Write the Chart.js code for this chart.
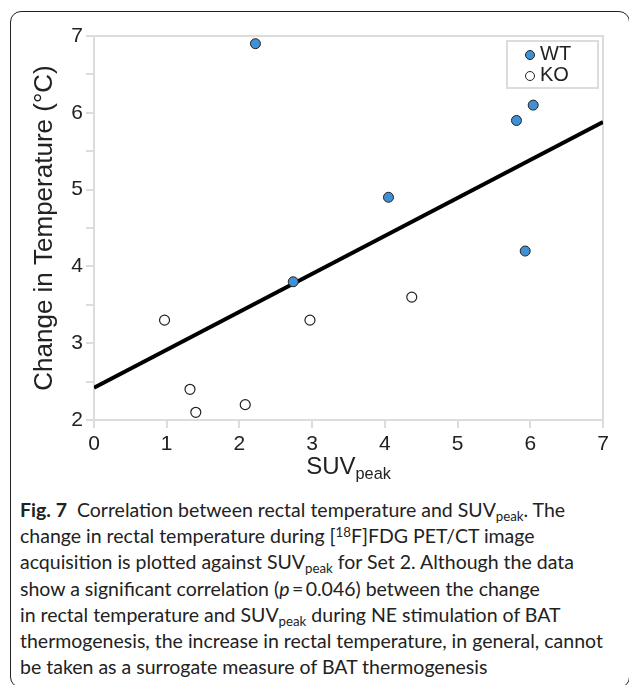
<!DOCTYPE html>
<html>
<head>
<meta charset="utf-8">
<script src="https://cdn.jsdelivr.net/npm/chart.js@4/dist/chart.umd.min.js"></script>
<style>
	html, body { margin: 0; padding: 0; background: #fff; overflow: hidden; }
	#page { position: relative; width: 629px; height: 685px; overflow: hidden; }
	#frame { position: absolute; left: 10px; top: 11px; width: 620px; height: 677px; border: 1.5px solid #222; border-radius: 11px; box-sizing: border-box; }
	#chart { position: absolute; left: 0; top: 0; }
	#x-title { position: absolute; left: 94px; width: 509px; top: 452px; text-align: center; font: 24px "Liberation Sans", Arial, sans-serif; color: #222; }
	#x-title sub, .caption sub { font-size: 0.68em; line-height: 0; vertical-align: baseline; position: relative; top: 0.3em; }
	.caption sup { font-size: 0.68em; line-height: 0; vertical-align: baseline; position: relative; top: -0.45em; }
	#legend { position: absolute; left: 506px; top: 40px; width: 93px; height: 49px; border: 2px solid #dcdcdc; box-sizing: border-box; font: 20px "Liberation Sans", Arial, sans-serif; color: #222; }
	#legend .item { position: absolute; left: 17px; height: 21px; line-height: 21px; white-space: nowrap; }
	#legend .dot { display: inline-block; width: 10px; height: 10px; border-radius: 50%; margin-right: 5px; vertical-align: 0px; box-sizing: border-box; }
	.caption { position: absolute; left: 20px; top: 497px; font: 19.5px Lato, "Open Sans", sans-serif; line-height: 26.2px; color: #222; white-space: nowrap; }
</style>
</head>
<body>
<div id="page">
	<div id="frame"></div>
	<canvas id="chart" width="629" height="470"></canvas>
	<div id="x-title">SUV<sub>peak</sub></div>
	<div id="legend"></div>
	<div class="caption">
		<b>Fig. 7</b>&nbsp; Correlation between rectal temperature and SUV<sub>peak</sub>. The<br>
		change in rectal temperature during [<sup>18</sup>F]FDG PET/CT image<br>
		acquisition is plotted against SUV<sub>peak</sub> for Set 2. Although the data<br>
		show a significant correlation (<i>p</i>&thinsp;=&thinsp;0.046) between the change<br>
		in rectal temperature and SUV<sub>peak</sub> during NE stimulation of BAT<br>
		thermogenesis, the increase in rectal temperature, in general, cannot<br>
		be taken as a surrogate measure of BAT thermogenesis
	</div>
</div>
<script>
// SUVpeak vs change in rectal temperature
const wtSuv  = [2.22, 2.74, 4.05, 5.81, 6.04, 5.93];
const wtTemp = [6.9, 3.8, 4.9, 5.9, 6.1, 4.2];

const koSuv  = [0.97, 1.32, 1.40, 2.08, 2.97, 4.37];
const koTemp = [3.3, 2.4, 2.1, 2.2, 3.3, 3.6];

// fitted line end points
const fitSuv  = [0, 7];
const fitTemp = [2.42, 5.88];

const xTicks = [0, 1, 2, 3, 4, 5, 6, 7];

const AXIS_GREY = "#dcdcdc";
const INK = "#222";

function points(xs, ys)
{
	return xs.map((x, i) => ({ x, y: ys[i] }));
}

// grey box round the plot area
const plotBox = {
	id: "plotBox",
	beforeDatasetsDraw(chart)
	{
		const { ctx, chartArea: a } = chart;
		ctx.save();
		ctx.strokeStyle = AXIS_GREY;
		ctx.lineWidth = 2;
		ctx.strokeRect(a.left, a.top, a.right - a.left, a.bottom - a.top);
		ctx.restore();
	}
};

const chart = new Chart(document.getElementById("chart"), {
	type: "scatter",
	data: {
		datasets: [
			{
				label: "WT",
				data: points(wtSuv, wtTemp),
				backgroundColor: "#4190d4",
				borderColor: INK,
				borderWidth: 1,
				pointRadius: 5,
				order: 0
			},
			{
				label: "KO",
				data: points(koSuv, koTemp),
				backgroundColor: "#fff",
				borderColor: INK,
				borderWidth: 1.2,
				pointRadius: 5,
				order: 0
			},
			{
				label: "fit",
				type: "line",
				data: points(fitSuv, fitTemp),
				borderColor: "#000",
				borderWidth: 4,
				pointRadius: 0,
				order: 1
			}
		]
	},
	options: {
		responsive: false,
		animation: false,
		layout: { padding: { left: 0, right: 26, top: 36, bottom: 0 } },
		plugins: { legend: { display: false }, tooltip: { enabled: false } },
		scales: {
			x: {
				type: "linear",
				min: 0,
				max: 7,
				afterFit: s => { s.height = 50; },
				afterBuildTicks: s => { s.ticks = xTicks.map(value => ({ value })); },
				border: { color: AXIS_GREY, width: 2 },
				grid: { drawOnChartArea: false, color: AXIS_GREY, lineWidth: 2, tickLength: 8 },
				ticks: { color: INK, padding: 4, maxRotation: 0, font: { family: "Liberation Sans", size: 21 } }
			},
			y: {
				min: 2,
				max: 7,
				afterFit: s => { s.width = 94; },
				border: { color: AXIS_GREY, width: 2 },
				grid: { drawOnChartArea: false, color: AXIS_GREY, lineWidth: 2, tickLength: 8 },
				ticks: {
					stepSize: 0.5,
					color: INK,
					padding: 3,
					font: { family: "Liberation Sans", size: 21 },
					callback: v => Number.isInteger(v) ? v : ""
				},
				title: {
					display: true,
					text: "Change in Temperature (°C)",
					color: INK,
					padding: { top: 29, bottom: 0 },
					font: { family: "Liberation Sans", size: 26, weight: "normal" }
				}
			}
		}
	},
	plugins: [ plotBox ]
});

// legend built from the scatter datasets
const legend = document.getElementById("legend");
chart.data.datasets.filter(d => d.type !== "line").forEach((d, i) =>
{
	const item = document.createElement("div");
	item.className = "item";
	item.style.top = (1 + i * 21) + "px";
	const dot = document.createElement("span");
	dot.className = "dot";
	dot.style.background = d.backgroundColor;
	dot.style.border = "1px solid " + d.borderColor;
	item.appendChild(dot);
	item.appendChild(document.createTextNode(d.label));
	legend.appendChild(item);
});
</script>
</body>
</html>
